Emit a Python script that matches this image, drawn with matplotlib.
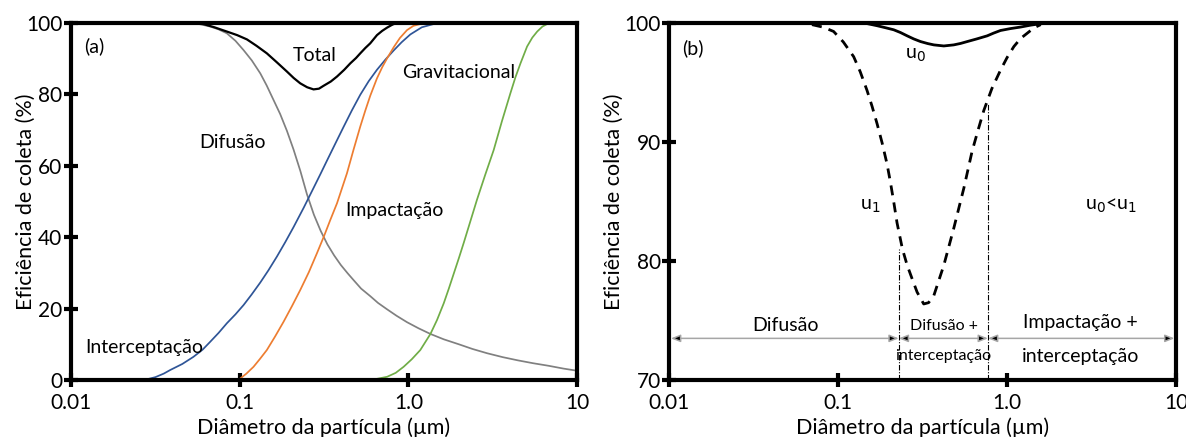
import numpy as np
import matplotlib
matplotlib.use("Agg")
import matplotlib.pyplot as plt

plt.rcParams['font.family'] = ['Lato', 'DejaVu Sans']

# Particle diameters are listed as log10(d / µm); efficiencies in %.

# ---- Panel (a): collection efficiency per mechanism
dif_logd = [-1.306, -1.25, -1.175, -1.125, -1.076, -1.025, -0.977, -0.928, -0.878,
            -0.84, -0.799, -0.76, -0.72, -0.681, -0.64, -0.601, -0.56, -0.52,
            -0.48, -0.44, -0.40, -0.36, -0.325, -0.28, -0.226, -0.18, -0.126,
            -0.07, -0.008, 0.06, 0.131, 0.21, 0.3, 0.38, 0.467, 0.56, 0.65,
            0.74, 0.83, 0.92, 1.0]
dif_v = [100, 99.8, 99, 98.2, 97.1, 95, 92.4, 89.5, 85.9,
         82.5, 78.4, 74.5, 69.8, 64.6, 58.5, 52.0, 46.3, 41.8,
         38.0, 34.9, 32.2, 29.9, 28, 25.6, 23.5, 21.6, 19.8,
         18, 16.2, 14.5, 12.9, 11.4, 10, 8.7, 7.5, 6.4, 5.5,
         4.7, 4.0, 3.2, 2.6]

int_logd = [-2.0, -1.8, -1.6, -1.55, -1.5, -1.45, -1.412, -1.34, -1.274, -1.22,
            -1.175, -1.125, -1.076, -1.025, -0.977, -0.93, -0.878, -0.83, -0.779,
            -0.73, -0.681, -0.62, -0.562, -0.52, -0.483, -0.43, -0.384, -0.335,
            -0.285, -0.235, -0.186, -0.135, -0.087, -0.04, 0.012, 0.08, 0.150]
int_v = [0, 0, 0, 0.2, 0.8, 1.8, 2.8, 4.5, 6.5, 8.5,
         10.7, 13.2, 15.9, 18.4, 21, 23.9, 27.3, 30.7, 34.6,
         38.6, 42.8, 48.3, 53.8, 57.8, 61.4, 66.5, 70.9, 75.5,
         79.9, 83.7, 86.9, 89.8, 92.3, 94.6, 96.8, 98.8, 99.7]

imp_logd = [-1.02, -1.0, -0.96, -0.918, -0.88, -0.839, -0.79, -0.74, -0.69,
            -0.641, -0.59, -0.542, -0.50, -0.463, -0.423, -0.364, -0.325, -0.285,
            -0.255, -0.226, -0.186, -0.155, -0.126, -0.087, -0.05, -0.008, 0.03,
            0.071]
imp_v = [0, 0.3, 1.8, 3.7, 5.9, 8.4, 12.2, 16.3, 20.7,
         25.2, 30.2, 35.5, 40.3, 44.8, 49.5, 57.9, 64.5, 71,
         75.5, 79.6, 84.5, 87.6, 90.1, 93.2, 95.8, 98, 99.2,
         99.7]

grav_logd = [-0.25, -0.2, -0.126, -0.075, -0.028, 0.02, 0.071, 0.131, 0.17,
             0.21, 0.24, 0.27, 0.3, 0.329, 0.368, 0.407, 0.456, 0.506, 0.555,
             0.605, 0.635, 0.665, 0.704, 0.735, 0.764, 0.795, 0.823]
grav_v = [0, 0.2, 0.9, 2, 3.7, 5.8, 8.4, 12.9, 16.8,
          21.5, 25.6, 29.9, 34.2, 38.5, 44.5, 50.5, 57.5, 64.4, 72.5,
          80.3, 84.8, 88.7, 93.4, 95.9, 97.6, 99, 99.7]

tot_logd = [-1.306, -1.25, -1.215, -1.15, -1.076, -1.015, -0.957, -0.9, -0.839,
            -0.78, -0.72, -0.68, -0.641, -0.6, -0.562, -0.53, -0.503, -0.46,
            -0.423, -0.38, -0.344, -0.31, -0.285, -0.255, -0.226, -0.186, -0.155,
            -0.126, -0.1, -0.087, -0.05, 0.3]
tot_v = [100, 99.9, 99.7, 98.8, 97.6, 96.6, 95.4, 93.6, 91.5,
         89, 86.4, 84.6, 83.1, 82, 81.4, 81.6, 82.4, 83.6,
         85, 86.9, 88.7, 90.2, 91.5, 93, 94.3, 96.6, 97.8,
         98.7, 99.4, 99.7, 100, 100]

# ---- Panel (b): total efficiency at two face velocities
u0_logd = [-1.3, -0.9, -0.83, -0.77, -0.72, -0.672, -0.632, -0.592, -0.553,
           -0.513, -0.47, -0.434, -0.375, -0.316, -0.276, -0.236, -0.18, -0.118,
           -0.08, -0.039, 0.02, 0.08, 0.14, 0.199, 0.3]
u0_v = [100, 100, 99.95, 99.77, 99.6, 99.43, 99.2, 98.92, 98.66,
        98.44, 98.27, 98.16, 98.07, 98.16, 98.28, 98.44, 98.66, 98.92,
        99.15, 99.37, 99.53, 99.66, 99.82, 99.94, 100]

u1_logd = [-1.156, -1.09, -1.028, -0.97, -0.909, -0.87, -0.83, -0.80, -0.770,
           -0.74, -0.711, -0.691, -0.672, -0.652, -0.62, -0.592, -0.56, -0.533,
           -0.494, -0.465, -0.434, -0.375, -0.316, -0.256, -0.207, -0.17, -0.138,
           -0.09, -0.039, 0.0, 0.04, 0.08, 0.12, 0.16, 0.199]
u1_v = [99.86, 99.65, 99.29, 98.4, 97.17, 95.9, 94.34, 93.0, 91.52,
        89.9, 88.13, 86.6, 85.0, 83.2, 81.0, 79.64, 78.4, 77.38,
        76.39, 76.5, 77.1, 79.64, 82.75, 86.14, 89.25, 91.1, 92.65,
        94.5, 96.04, 97.1, 98.02, 98.7, 99.15, 99.6, 99.86]

# Regime boundaries (µm) and the height where each boundary line stops (%)
bound_d = [0.228, 0.77]
bound_top = [81.0, 93.2]
arrow_y = 73.5

xticks = [0.01, 0.1, 1.0, 10]
xtick_labels = ['0.01', '0.1', '1.0', '10']

FS_TICK = 15
FS_LAB = 15.5
FS_TXT = 14

fig = plt.figure(figsize=(11.86, 4.37), dpi=100)
ax_a = fig.add_axes([0.0599, 0.1304, 0.4266, 0.8170])
ax_b = fig.add_axes([0.5645, 0.1304, 0.4270, 0.8170])


def d(logd):
    return np.power(10.0, logd)


def style_axes(ax, yticks, ylabelpad):
    ax.set_xscale('log')
    ax.set_xlim(0.01, 10)
    ax.set_xticks(xticks)
    ax.set_xticklabels(xtick_labels)
    ax.xaxis.set_minor_locator(matplotlib.ticker.NullLocator())
    ax.set_yticks(yticks)
    for s in ax.spines.values():
        s.set_linewidth(3.0)
        s.set_color('black')
    ax.tick_params(axis='both', which='major', direction='inout', length=10.5,
                   width=3.0, labelsize=FS_TICK)
    ax.tick_params(axis='x', pad=4)
    ax.tick_params(axis='y', pad=1)
    ax.set_xlabel('Diâmetro da partícula (µm)', fontsize=FS_LAB, labelpad=3)
    ax.set_ylabel('Eficiência de coleta (%)', fontsize=FS_LAB, labelpad=ylabelpad)


# Panel (a)
kw = dict(lw=1.25, solid_joinstyle='round', solid_capstyle='round')
ax_a.plot(d(dif_logd), dif_v, color='#808080', **kw)
ax_a.plot(d(int_logd), int_v, color='#2f5597', **kw)
ax_a.plot(d(imp_logd), imp_v, color='#ed7d31', **kw)
ax_a.plot(d(grav_logd), grav_v, color='#70ad47', **kw)
ax_a.plot(d(tot_logd), tot_v, color='black', lw=1.6, solid_joinstyle='round')
ax_a.set_ylim(0, 100)
style_axes(ax_a, [0, 20, 40, 60, 80, 100], -6.9)
ax_a.text(0.012, 93.5, '(a)', fontsize=FS_TXT, ha='left', va='center')
ax_a.text(0.28, 91.0, 'Total', fontsize=FS_TXT, ha='center', va='center')
ax_a.text(1.98, 86.0, 'Gravitacional', fontsize=FS_TXT, ha='center', va='center')
ax_a.text(0.091, 66.4, 'Difusão', fontsize=FS_TXT, ha='center', va='center')
ax_a.text(0.826, 47.6, 'Impactação', fontsize=FS_TXT, ha='center', va='center')
ax_a.text(0.027, 9.2, 'Interceptação', fontsize=FS_TXT, ha='center', va='center')

# Panel (b)
ax_b.plot(d(u0_logd), u0_v, color='black', lw=2.0, solid_joinstyle='round')
ax_b.plot(d(u1_logd), u1_v, color='black', lw=2.0, linestyle=(0, (3.6, 2.6)))
for x, top in zip(bound_d, bound_top):
    ax_b.plot([x, x], [70, top], color='black', lw=0.8,
              linestyle=(0, (5, 1.5, 1, 1.5)))
edges = [0.0102, bound_d[0], bound_d[1], 9.8]
for x0, x1 in zip(edges[:-1], edges[1:]):
    ax_b.annotate('', xy=(x1, arrow_y), xytext=(x0, arrow_y),
                  arrowprops=dict(arrowstyle='<|-|>,head_length=0.55,head_width=0.22',
                                  fc='black', ec='#a6a6a6', lw=1.1,
                                  shrinkA=0, shrinkB=0))
ax_b.set_ylim(70, 100)
style_axes(ax_b, [70, 80, 90, 100], 0.2)
ax_b.text(0.0118, 97.9, '(b)', fontsize=FS_TXT, ha='left', va='center')
ax_b.text(0.286, 97.3, r'u$_0$', fontsize=FS_TXT, ha='center', va='center')
ax_b.text(0.155, 84.6, r'u$_1$', fontsize=FS_TXT, ha='center', va='center')
ax_b.text(4.11, 84.6, r'u$_0$<u$_1$', fontsize=FS_TXT, ha='center', va='center')
ax_b.text(0.0484, 74.6, 'Difusão', fontsize=FS_TXT, ha='center', va='center')
ax_b.text(0.42, 74.5, 'Difusão +', fontsize=11.5, ha='center', va='center')
ax_b.text(0.42, 72.0, 'interceptação', fontsize=11.5, ha='center', va='center')
ax_b.text(2.73, 74.8, 'Impactação +', fontsize=FS_TXT, ha='center', va='center')
ax_b.text(2.73, 72.0, 'interceptação', fontsize=FS_TXT, ha='center', va='center')

fig.savefig('out.png', dpi=100)
